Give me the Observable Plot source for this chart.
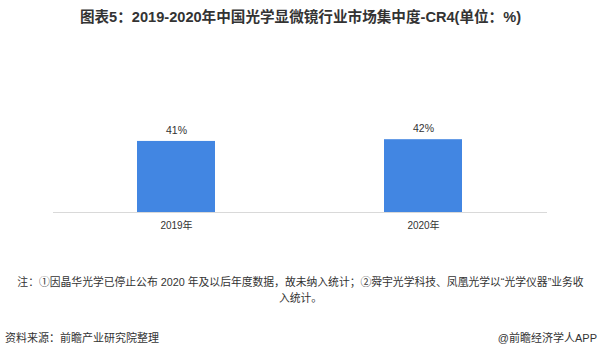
<!DOCTYPE html>
<html><head><meta charset="utf-8">
<script src="https://cdn.jsdelivr.net/npm/d3@7"></script>
<script src="https://cdn.jsdelivr.net/npm/@observablehq/plot@0.6"></script>
<style>
html,body{margin:0;padding:0;background:#fff;}
#wrap{position:relative;width:601px;height:359px;overflow:hidden;font-family:"Liberation Sans","Noto Sans CJK SC",sans-serif;color:#333;}
#title{position:absolute;left:0;top:8px;width:601px;text-align:center;font-weight:bold;font-size:14.6px;line-height:19px;color:#333;}
#chart{position:absolute;left:0;top:40px;}
#note{position:absolute;left:0;top:274px;width:601px;text-align:center;font-size:10.8px;line-height:16px;color:#333;}
#src{position:absolute;left:5px;top:329px;font-size:11px;color:#333;}
#brand{position:absolute;right:4px;top:329px;font-size:11px;color:#333;}
</style></head>
<body><div id="wrap">
<div id="title">图表5：2019-2020年中国光学显微镜行业市场集中度-CR4(单位：%)</div>
<div id="chart"></div>
<div id="note">注：①因晶华光学已停止公布 2020 年及以后年度数据，故未纳入统计；②舜宇光学科技、凤凰光学以“光学仪器”业务收<br>入统计。</div>
<div id="src">资料来源：前瞻产业研究院整理</div>
<div id="brand">@前瞻经济学人APP</div>
</div>
<script>
const years = ["2019年", "2020年"];
const cr4 = [41, 42];
const labels = ["41%", "42%"];

const data = years.map((y, i) => ({year: y, value: cr4[i], label: labels[i]}));

const chart = Plot.plot({
  width: 601,
  height: 200,
  marginLeft: 53,
  marginRight: 54,
  marginTop: 68,
  marginBottom: 28,
  style: {fontFamily: '"Liberation Sans","Noto Sans CJK SC",sans-serif', background: "transparent", color: "#333"},
  x: {domain: years, paddingInner: 0.684, paddingOuter: 0.342, label: null},
  y: {domain: [0, 60], axis: null},
  marks: [
    Plot.barY(data, {x: "year", y: "value", fill: "#4286E2"}),
    Plot.ruleY([0], {stroke: "#d9d9d9", strokeWidth: 1}),
    Plot.text(data, {x: "year", y: "value", text: "label", dy: -11, fontSize: 10.5, fill: "#333"}),
    Plot.axisX({tickSize: 0, tickPadding: 9, fontSize: 10, fill: "#333", label: null})
  ]
});
document.getElementById("chart").appendChild(chart);
</script>
</body></html>
